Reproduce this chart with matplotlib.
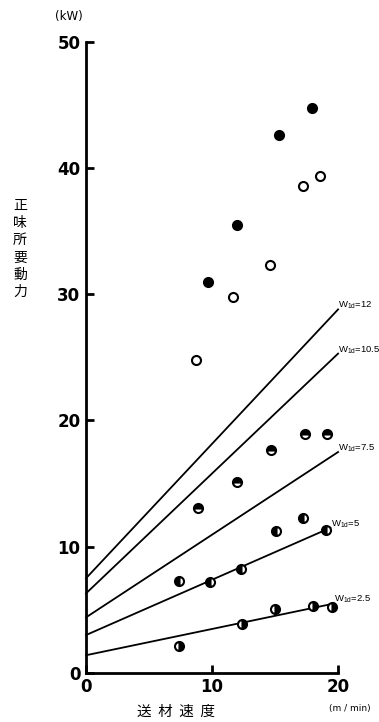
import matplotlib
matplotlib.use("Agg")
import matplotlib.pyplot as plt
import numpy as np

plt.rcParams['font.family'] = ['DejaVu Sans', 'Noto Sans CJK JP']
plt.rcParams['mathtext.fontset'] = 'custom'
plt.rcParams['mathtext.rm'] = 'Liberation Sans'

# measured points (speed m/min, power kW)
w12_x = [9.7, 12.0, 15.3, 17.9]
w12_y = [31.0, 35.5, 42.6, 44.8]
w105_x = [8.7, 11.7, 14.6, 17.2, 18.6]
w105_y = [24.8, 29.8, 32.3, 38.6, 39.4]
w75_x = [8.9, 12.0, 14.7, 17.4, 19.1]
w75_y = [13.1, 15.1, 17.7, 18.9, 18.9]
w5_x = [7.4, 9.8, 12.3, 15.1, 17.2, 19.05]
w5_y = [7.3, 7.2, 8.2, 11.25, 12.3, 11.3]
w25_x = [7.4, 12.4, 15.0, 18.0, 19.5]
w25_y = [2.1, 3.9, 5.1, 5.3, 5.2]

# fitted lines: start / end points and labels
line_x0 = [0, 0, 0, 0, 0]
line_y0 = [7.5, 6.3, 4.4, 3.0, 1.4]
line_x1 = [20.0, 20.0, 20.0, 19.4, 19.7]
line_y1 = [28.8, 25.3, 17.5, 11.5, 5.5]
line_labels = ["12", "10.5", "7.5", "5", "2.5"]

fig = plt.figure(figsize=(3.79, 7.22), dpi=100)
ax = fig.add_axes([0.227, 0.068, 0.665, 0.874])

for x0, y0, x1, y1, lab in zip(line_x0, line_y0, line_x1, line_y1, line_labels):
    ax.plot([x0, x1], [y0, y1], color='black', lw=1.3, clip_on=False)
    ax.text(x1, y1 + 0.3, r"W$_{\mathregular{1d}}$=" + lab, family='Liberation Sans',
            fontsize=6.8, ha='left', va='center', clip_on=False)

mk = dict(ls='none', marker='o', ms=6.5, mec='black', mew=1.5, color='black', clip_on=False)
ax.plot(w12_x, w12_y, mfc='black', **mk)
ax.plot(w105_x, w105_y, mfc='white', **mk)
ax.plot(w75_x, w75_y, fillstyle='top', mfcalt='white', **mk)
ax.plot(w5_x, w5_y, fillstyle='left', mfcalt='white', **mk)
ax.plot(w25_x, w25_y, fillstyle='right', mfcalt='white', **mk)

ax.set_xlim(0, 20)
ax.set_ylim(0, 50)
ax.spines['top'].set_visible(False)
ax.spines['right'].set_visible(False)
ax.spines['left'].set_linewidth(2)
ax.spines['bottom'].set_linewidth(2)
ax.set_xticks([0, 10, 20])
ax.set_yticks([0, 10, 20, 30, 40, 50])
ax.tick_params(direction='in', length=6, width=2, labelsize=12, pad=4)
for t in ax.get_xticklabels() + ax.get_yticklabels():
    t.set_fontweight('bold')

ax.text(-0.07, 1.03, "(kW)", transform=ax.transAxes, fontsize=8.5, ha='center', va='bottom')
ax.text(0.965, -0.05, "(m / min)", transform=ax.transAxes, fontsize=6.5, ha='left', va='top')

fig.text(0.053, 0.725, "正\n味\n所\n要\n動\n力", family=['Noto Sans CJK JP'], fontsize=10,
         ha='center', va='top', linespacing=1.3)
fig.text(0.465, 0.004, "送  材  速  度", family=['Noto Sans CJK JP'], fontsize=10.5,
         ha='center', va='bottom')

fig.savefig("out.png", dpi=100)
